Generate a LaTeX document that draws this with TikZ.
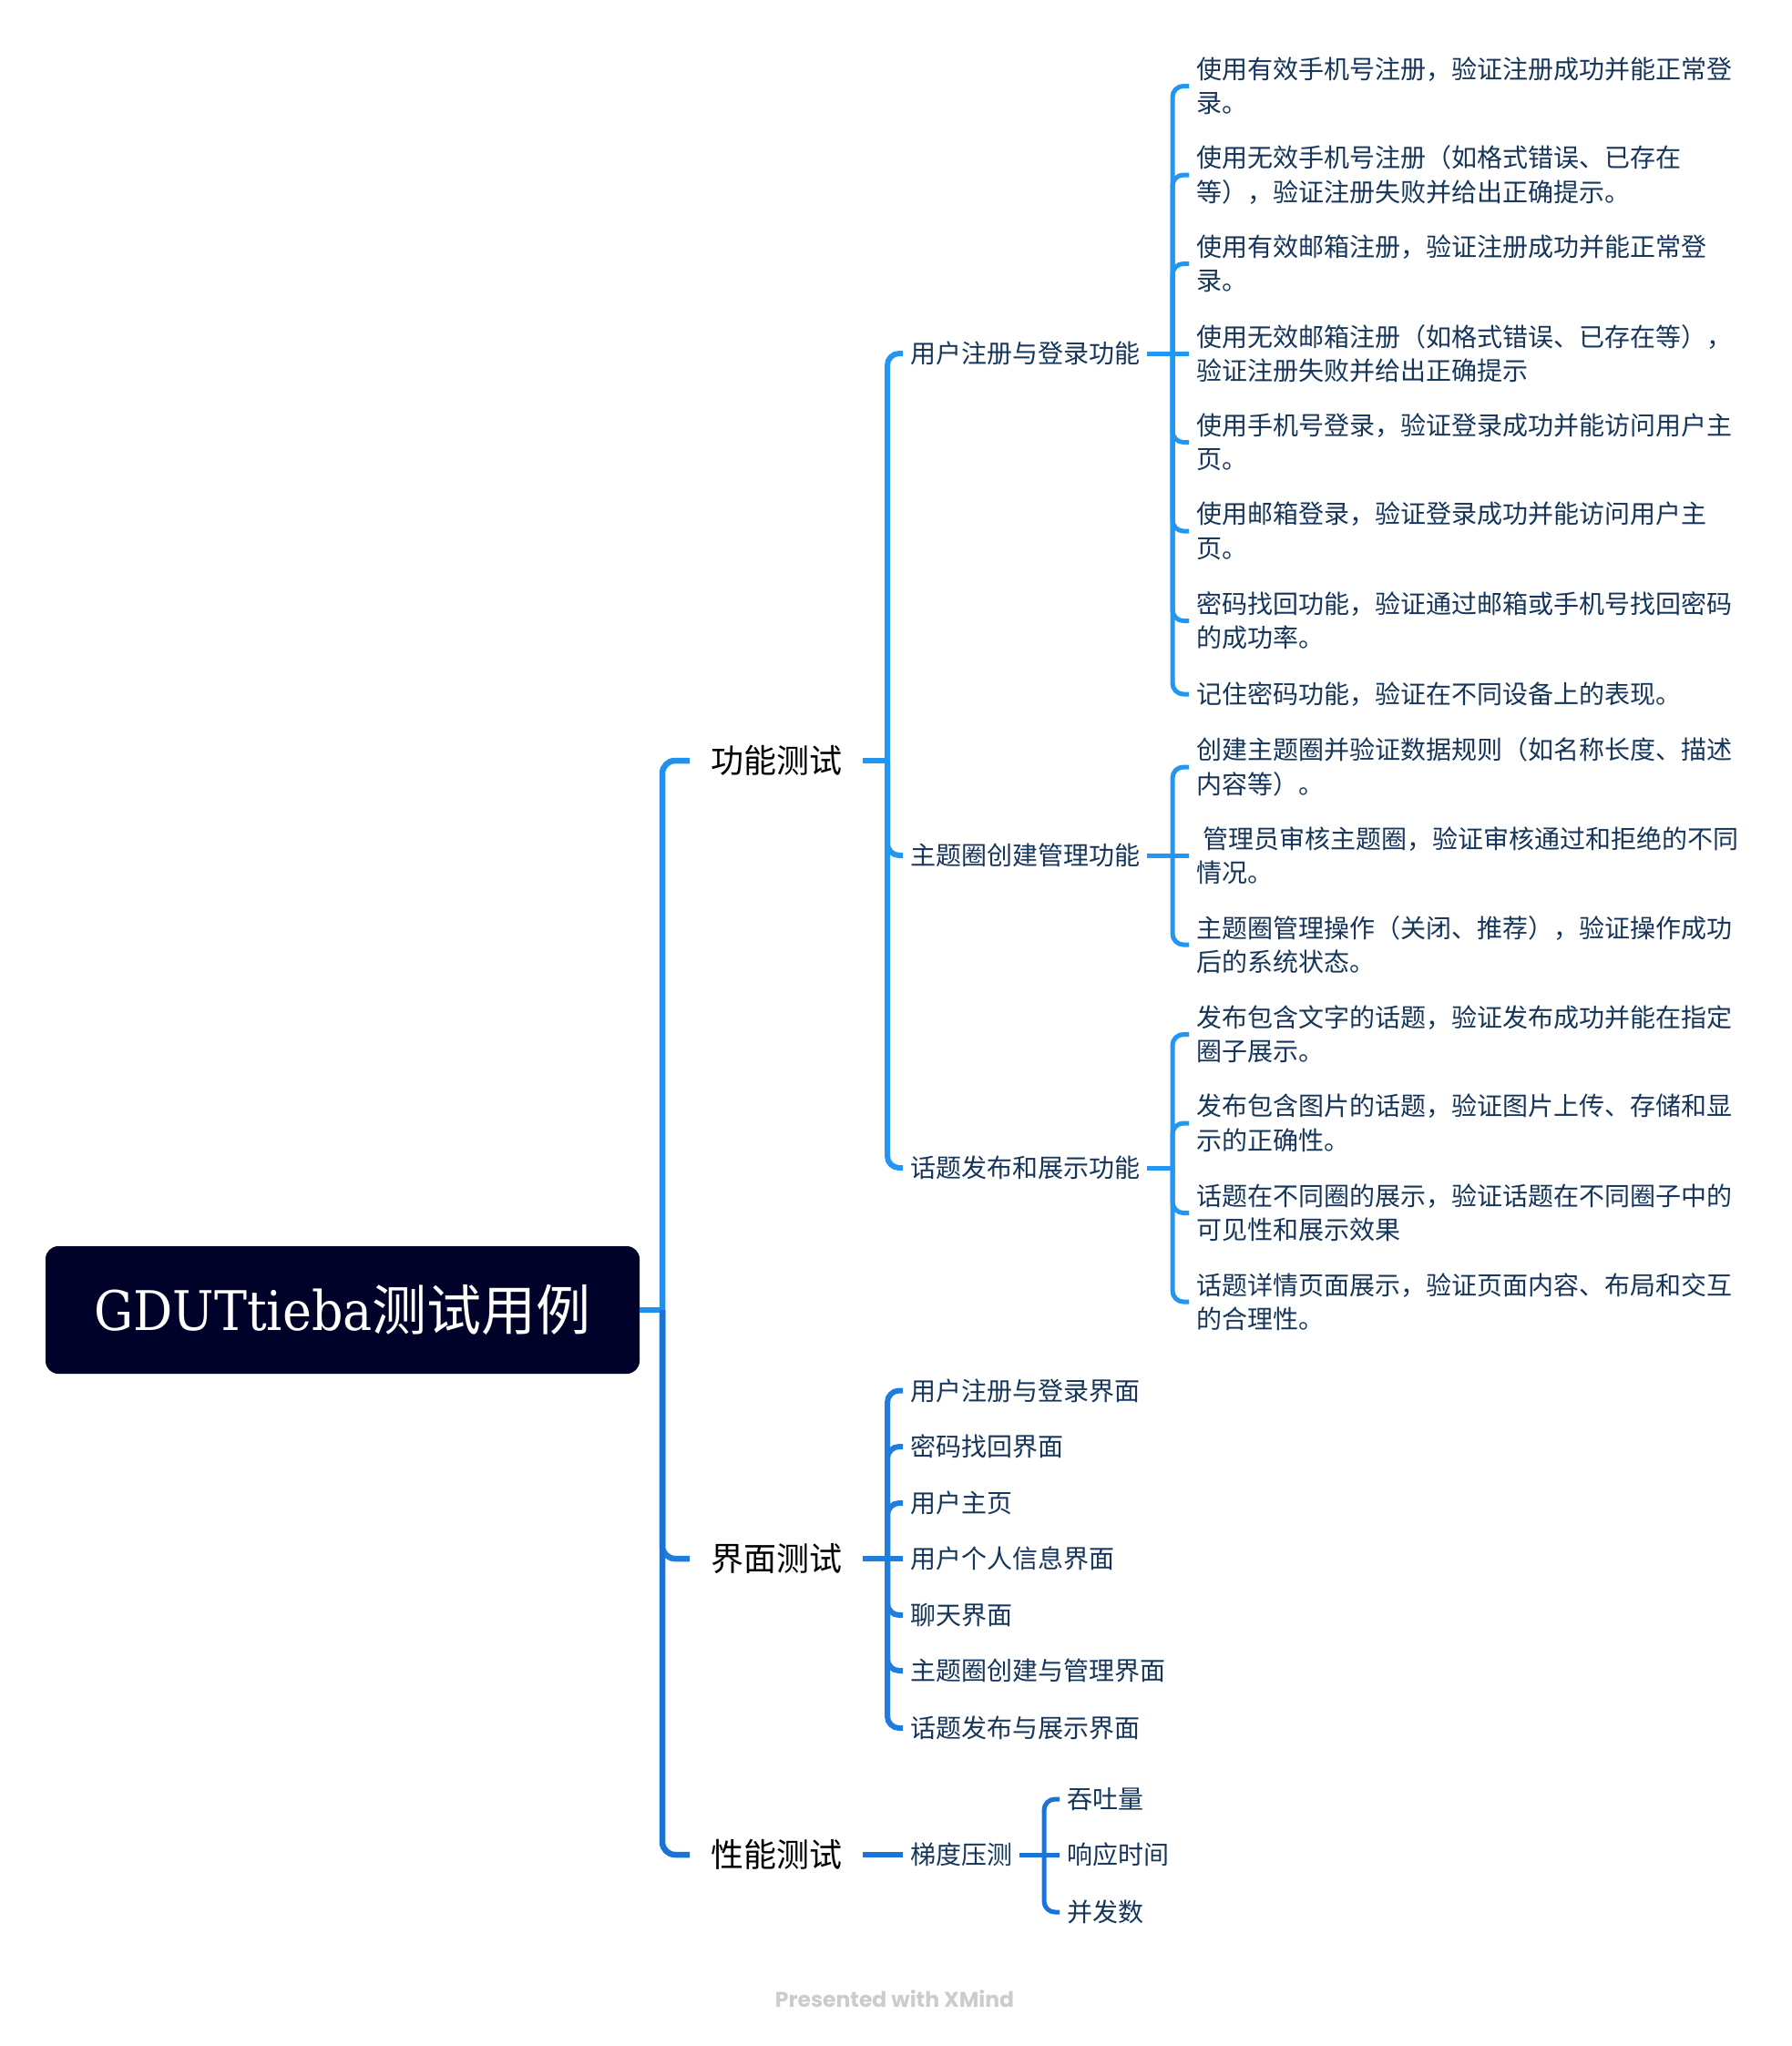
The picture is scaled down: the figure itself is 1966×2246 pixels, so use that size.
\documentclass[tikz,border=0pt]{standalone}
\usepackage{fontspec}
\setmainfont{Noto Sans CJK SC}
\newfontfamily\rootlatin{DejaVu Serif Condensed}
\newfontfamily\wmfont{Poppins}
\definecolor{rootfill}{HTML}{000229}
\definecolor{leafc}{HTML}{15355A}
\definecolor{cA}{HTML}{2196F3}
\definecolor{cT}{HTML}{2090EE}
\definecolor{cB}{HTML}{1E7EDE}
\definecolor{cC}{HTML}{1B73D5}
\definecolor{wmc}{HTML}{CCCCCC}
\tikzset{
  rootbox/.style={fill=rootfill, rounded corners=14pt, minimum width=652pt, minimum height=140pt, text=white, inner sep=0pt, font=\fontsize{60}{66}\selectfont},
  mainnode/.style={anchor=west, inner xsep=23pt, inner ysep=0pt, text=black, font=\fontsize{36}{40}\selectfont},
  subnode/.style={anchor=west, inner xsep=8pt, inner ysep=0pt, text=leafc, font=\fontsize{28}{37.5}\selectfont},
  leafnode/.style={anchor=west, inner xsep=8pt, inner ysep=0pt, align=left, text=leafc, font=\fontsize{28}{37.5}\selectfont},
  wmnode/.style={text=wmc, font=\wmfont\bfseries\fontsize{23.5}{27}\selectfont},
  lnA/.style={line width=6.5pt, rounded corners=14pt},
  lnB/.style={line width=6pt, rounded corners=13pt},
  lnC/.style={line width=5pt, rounded corners=12pt},
}
\begin{document}
\begin{tikzpicture}[x=1pt,y=-1pt]
\useasboundingbox (0,0) rectangle (1966,2246);
% root
\node[rootbox] (root) at (376,1438) {{\rootlatin GDUTtieba}测试用例};
\coordinate (jr) at (727,1438);
% level 1
\node[mainnode] (f) at (757,835) {功能测试};
\node[mainnode] (u) at (757,1711) {界面测试};
\node[mainnode] (p) at (757,2036) {性能测试};
\draw[lnA,cT] (root.east) -- (jr);
\draw[lnA,cT] (jr) |- (f.west);
\draw[lnA,cB] (jr) |- (u.west);
\draw[lnA,cC] (jr) |- (p.west);
% level 2 under 功能测试
\coordinate (jf) at (974,835);
\node[subnode] (a) at (991,388) {用户注册与登录功能};
\node[subnode] (b) at (991,939) {主题圈创建管理功能};
\node[subnode] (c) at (991,1282) {话题发布和展示功能};
\draw[lnB,cA] (f.east) -- (jf);
\draw[lnB,cA] (jf) |- (a.west);
\draw[lnB,cA] (jf) |- (b.west);
\draw[lnB,cA] (jf) |- (c.west);
% leaves of 用户注册与登录功能
\coordinate (ja) at (1287,388);
\node[leafnode] (a1) at (1305,94.5) {使用有效手机号注册，验证注册成功并能正常登\\录。};
\node[leafnode] (a2) at (1305,192) {使用无效手机号注册（如格式错误、已存在\\等），验证注册失败并给出正确提示。};
\node[leafnode] (a3) at (1305,289.5) {使用有效邮箱注册，验证注册成功并能正常登\\录。};
\node[leafnode] (a4) at (1305,388) {使用无效邮箱注册（如格式错误、已存在等），\\验证注册失败并给出正确提示};
\node[leafnode] (a5) at (1305,485.5) {使用手机号登录，验证登录成功并能访问用户主\\页。};
\node[leafnode] (a6) at (1305,583) {使用邮箱登录，验证登录成功并能访问用户主\\页。};
\node[leafnode] (a7) at (1305,681.5) {密码找回功能，验证通过邮箱或手机号找回密码\\的成功率。};
\node[leafnode] (a8) at (1305,762) {记住密码功能，验证在不同设备上的表现。};
\draw[lnC,cA] (a.east) -- (ja);
\foreach \n in {a1,a2,a3,a5,a6,a7,a8} \draw[lnC,cA] (ja) |- (\n.west);
\draw[lnC,cA] (ja) -- (a4.west);
% leaves of 主题圈创建管理功能
\coordinate (jb) at (1287,939);
\node[leafnode] (b1) at (1305,842) {创建主题圈并验证数据规则（如名称长度、描述\\内容等）。};
\node[leafnode] (b2) at (1305,939) {\hspace*{7pt}管理员审核主题圈，验证审核通过和拒绝的不同\\情况。};
\node[leafnode] (b3) at (1305,1037) {主题圈管理操作（关闭、推荐），验证操作成功\\后的系统状态。};
\draw[lnC,cA] (b.east) -- (jb);
\draw[lnC,cA] (jb) |- (b1.west);
\draw[lnC,cA] (jb) -- (b2.west);
\draw[lnC,cA] (jb) |- (b3.west);
% leaves of 话题发布和展示功能
\coordinate (jc) at (1287,1282);
\node[leafnode] (c1) at (1305,1135.5) {发布包含文字的话题，验证发布成功并能在指定\\圈子展示。};
\node[leafnode] (c2) at (1305,1233) {发布包含图片的话题，验证图片上传、存储和显\\示的正确性。};
\node[leafnode] (c3) at (1305,1331.5) {话题在不同圈的展示，验证话题在不同圈子中的\\可见性和展示效果};
\node[leafnode] (c4) at (1305,1429) {话题详情页面展示，验证页面内容、布局和交互\\的合理性。};
\draw[lnC,cA] (c.east) -- (jc);
\foreach \n in {c1,c2,c3,c4} \draw[lnC,cA] (jc) |- (\n.west);
% 界面测试
\coordinate (ju) at (974,1711);
\node[subnode] (u1) at (991,1526.5) {用户注册与登录界面};
\node[subnode] (u2) at (991,1588) {密码找回界面};
\node[subnode] (u3) at (991,1650) {用户主页};
\node[subnode] (u4) at (991,1711) {用户个人信息界面};
\node[subnode] (u5) at (991,1773) {聊天界面};
\node[subnode] (u6) at (991,1834) {主题圈创建与管理界面};
\node[subnode] (u7) at (991,1897) {话题发布与展示界面};
\draw[lnB,cB] (u.east) -- (ju);
\foreach \n in {u1,u2,u3,u5,u6,u7} \draw[lnB,cB] (ju) |- (\n.west);
\draw[lnB,cB] (ju) -- (u4.west);
% 性能测试
\node[subnode] (g) at (991,2036) {梯度压测};
\draw[lnB,cC] (p.east) -- (g.west);
\coordinate (jg) at (1146,2036);
\node[subnode] (g1) at (1163,1975) {吞吐量};
\node[subnode] (g2) at (1163,2036) {响应时间};
\node[subnode] (g3) at (1163,2099) {并发数};
\draw[lnC,cC] (g.east) -- (jg);
\draw[lnC,cC] (jg) |- (g1.west);
\draw[lnC,cC] (jg) -- (g2.west);
\draw[lnC,cC] (jg) |- (g3.west);
% watermark
\node[wmnode] (wm) at (982,2194) {Presented with XMind};
\end{tikzpicture}
\end{document}
